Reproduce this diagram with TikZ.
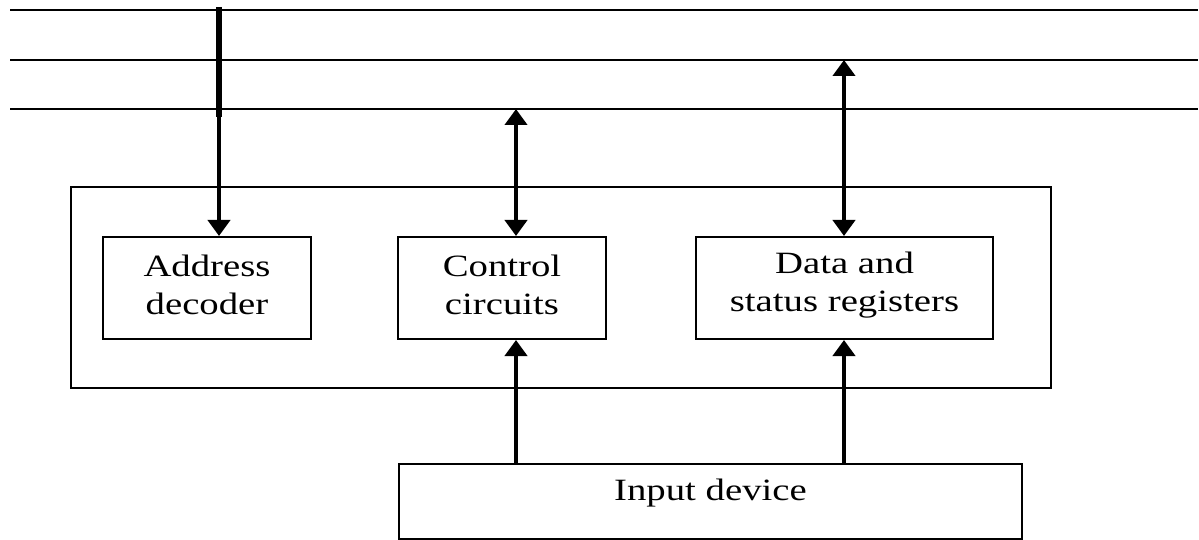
\documentclass[tikz,border=0pt]{standalone}
\usepackage{fontspec}
\setmainfont{Liberation Serif}
\newfontfamily\labelfont[FakeStretch=1.25]{Liberation Serif}
\usetikzlibrary{arrows.meta}
\tikzset{
  bus/.style={line width=2pt},
  box/.style={draw, line width=2pt, inner sep=0pt, anchor=north west},
  label/.style={font=\labelfont\fontsize{31}{38}\selectfont, align=center},
  link/.style={line width=4.5pt, -{Triangle[width=22pt,length=16pt]}},
  duplex/.style={line width=4.5pt, {Triangle[width=22pt,length=16pt]}-{Triangle[width=22pt,length=16pt]}},
}
\begin{document}
\begin{tikzpicture}[x=1pt,y=-1pt]
\useasboundingbox (0,0) rectangle (1199,540);
% system bus: three lines
\coordinate (b1l) at (10,10);  \coordinate (b1r) at (1198,10);
\coordinate (b2l) at (10,60);  \coordinate (b2r) at (1198,60);
\coordinate (b3l) at (10,109); \coordinate (b3r) at (1198,109);
\draw[bus] (b1l) -- (b1r);
\draw[bus] (b2l) -- (b2r);
\draw[bus] (b3l) -- (b3r);
% interface enclosure
\node[box, minimum width=980pt, minimum height=201pt] (iface) at (70,186) {};
% inner blocks
\node[box, minimum width=208pt, minimum height=102pt] (addr) at (102,236) {};
\node[label] at ([yshift=3pt]addr.center) {Address\\decoder};
\node[box, minimum width=208pt, minimum height=102pt] (ctrl) at (397,236) {};
\node[label] at ([yshift=3pt]ctrl.center) {Control\\circuits};
\node[box, minimum width=297pt, minimum height=102pt] (data) at (695,236) {};
\node[label] at ([yshift=3pt]data.center) {Data and\\status registers};
% input device
\node[box, minimum width=623pt, minimum height=75pt] (dev) at (398,463) {};
\node[label] at ([yshift=8pt]dev.center) {Input device};
% connection points
\coordinate (atop) at (219,7);
\coordinate (abus) at (219,117);
\coordinate (cbus) at (516,109);
\coordinate (dbus) at (844,60);
% address lines into the decoder
\draw[line width=6pt] (atop) -- (abus);
\draw[link] (atop) -- (addr.north -| atop);
% control and data paths to the bus
\draw[duplex] (cbus) -- (ctrl.north -| cbus);
\draw[duplex] (dbus) -- (data.north -| dbus);
% paths from the input device
\draw[link] (dev.north -| cbus) -- (ctrl.south -| cbus);
\draw[link] (dev.north -| dbus) -- (data.south -| dbus);
\end{tikzpicture}
\end{document}
